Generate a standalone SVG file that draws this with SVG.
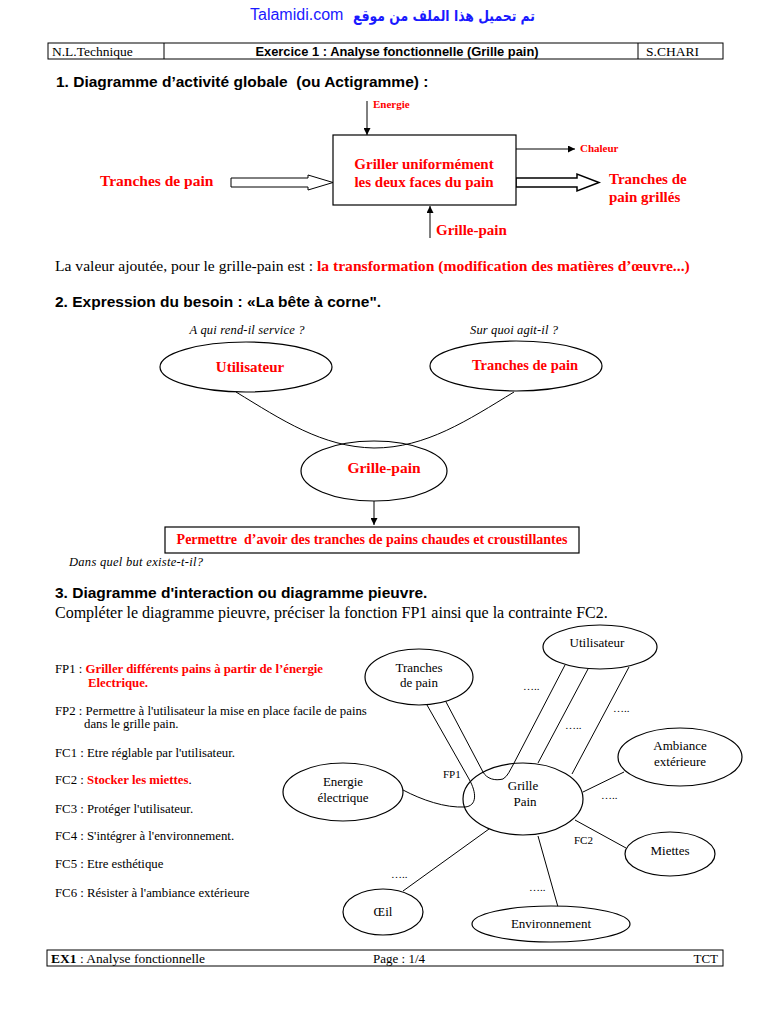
<svg xmlns="http://www.w3.org/2000/svg" width="768" height="1024" viewBox="0 0 768 1024">
<defs>
<marker id="ah" viewBox="0 0 10 10" refX="10" refY="5" markerWidth="7" markerHeight="7" orient="auto" markerUnits="userSpaceOnUse"><path d="M0,0 L10,5 L0,10 z" fill="#000"/></marker>
<style>
.s{font-family:"Liberation Serif","Times New Roman",serif;}
.a{font-family:"Liberation Sans",Arial,sans-serif;}
.b{font-weight:bold;}
.r{fill:#ff0000;}
.i{font-style:italic;}
.pre{white-space:pre;}
.ln{fill:none;stroke:#000;stroke-width:1;}
.p{font-size:13px;}
.t{font-size:12.8px;}
.h{font-size:15.5px;}
</style>
</defs>
<rect width="768" height="1024" fill="#fff"/>
<!-- header -->
<g id="header">
<text x="250" y="20" class="a" font-size="16" fill="#1a1aff">Talamidi.com</text>
<text x="535" y="21" font-family="'DejaVu Sans',sans-serif" font-weight="bold" font-size="15" fill="#1a1aff" text-anchor="end" textLength="182" lengthAdjust="spacingAndGlyphs">تم تحميل هذا الملف من موقع</text>
<rect x="48" y="43" width="675" height="16" fill="none" stroke="#000" stroke-width="1"/>
<line x1="164" y1="43" x2="164" y2="59" stroke="#000"/>
<line x1="638" y1="43" x2="638" y2="59" stroke="#000"/>
<text x="52" y="55.5" class="s" font-size="13.5">N.L.Technique</text>
<text x="397" y="55.5" class="a b" font-size="12.9" text-anchor="middle">Exercice 1 : Analyse fonctionnelle (Grille pain)</text>
<text x="646" y="55.5" class="s" font-size="13.5">S.CHARI</text>
</g>
<text x="56" y="87" class="a b h pre">1. Diagramme d’activité globale  (ou Actigramme) :</text>
<!-- actigramme -->
<g id="conn-acti">
<line x1="367" y1="101" x2="367" y2="135" class="ln" marker-end="url(#ah)"/>
<line x1="516" y1="149" x2="575" y2="149" class="ln" stroke="#555" marker-end="url(#ah)"/>
<line x1="430" y1="238" x2="430" y2="206" class="ln" stroke="#555" marker-end="url(#ah)"/>
<path d="M231,178 L308,178 L308,175 L333,182.5 L308,190 L308,187 L231,187 Z" fill="#fff" stroke="#000" stroke-width="1"/>
<path d="M516,178 L577,178 L577,174 L599,182.5 L577,191 L577,187 L516,187 Z" fill="#fff" stroke="#000" stroke-width="1.5"/>
</g>
<g id="box-acti">
<rect x="333" y="135" width="183" height="70" fill="#fff" stroke="#000" stroke-width="1.2"/>
<text x="424" y="169" class="s b r" font-size="15" text-anchor="middle">Griller uniformément</text>
<text x="424" y="187" class="s b r" font-size="15" text-anchor="middle">les deux faces du pain</text>
</g>
<text x="373" y="108" class="s b r" font-size="11">Energie</text>
<text x="580" y="152" class="s b r" font-size="11">Chaleur</text>
<text x="100" y="186" class="s b r" font-size="15.5">Tranches de pain</text>
<text x="609" y="184" class="s b r" font-size="15">Tranches de</text>
<text x="609" y="202" class="s b r" font-size="15">pain grillés</text>
<text x="436" y="235" class="s b r" font-size="15">Grille-pain</text>
<text x="55" y="271" class="s" font-size="15.6">La valeur ajoutée, pour le grille-pain est : <tspan class="b r">la transformation (modification des matières d’œuvre...)</tspan></text>
<text x="55" y="307" class="a b h">2. Expression du besoin : «La bête à corne".</text>
<!-- bete a corne -->
<text x="247" y="334" class="s i" font-size="12.5" text-anchor="middle" textLength="115">A qui rend-il service ?</text>
<text x="514" y="334" class="s i" font-size="12.5" text-anchor="middle" textLength="88">Sur quoi agit-il ?</text>
<g id="conn-bete">
<path d="M236,392 C282,420 322,447 374,448 C426,448 468,420 514,392" class="ln"/>
<line x1="374" y1="501" x2="374" y2="525" class="ln" marker-end="url(#ah)"/>
</g>
<g id="b-util"><ellipse cx="246" cy="367" rx="86" ry="25" fill="none" stroke="#000" stroke-width="1.2"/><text x="250" y="372" class="s b r" font-size="15" text-anchor="middle">Utilisateur</text></g>
<g id="b-tranches"><ellipse cx="516" cy="366" rx="86" ry="25" fill="none" stroke="#000" stroke-width="1.2"/><text x="525" y="370" class="s b r" font-size="14.5" text-anchor="middle">Tranches de pain</text></g>
<g id="b-grille"><ellipse cx="374" cy="471" rx="73" ry="30" fill="none" stroke="#000" stroke-width="1.2"/><text x="384" y="473" class="s b r" font-size="15.5" text-anchor="middle">Grille-pain</text></g>
<g id="b-but"><rect x="165" y="527" width="414" height="26" fill="#fff" stroke="#000" stroke-width="1.2"/><text x="372" y="544" class="s b r pre" font-size="14" text-anchor="middle">Permettre  d’avoir des tranches de pains chaudes et croustillantes</text></g>
<text x="69" y="566" class="s i" font-size="12.5" textLength="134">Dans quel but existe-t-il?</text>
<text x="55" y="598" class="a b h">3. Diagramme d'interaction ou diagramme pieuvre.</text>
<text x="55" y="618" class="s" font-size="16">Compléter le diagramme pieuvre, préciser la fonction FP1 ainsi que la contrainte FC2.</text>
<!-- list -->
<g id="liste" class="s t">
<text x="55" y="673">FP1 : <tspan class="b r">Griller différents pains à partir de l’énergie</tspan></text>
<text x="88" y="687" class="b r">Electrique.</text>
<text x="55" y="715">FP2 : Permettre à l'utilisateur la mise en place facile de pains</text>
<text x="84" y="728">dans le grille pain.</text>
<text x="55" y="757">FC1 : Etre réglable par l'utilisateur.</text>
<text x="55" y="784">FC2 : <tspan class="b r">Stocker les miettes</tspan>.</text>
<text x="55" y="813">FC3 : Protéger l'utilisateur.</text>
<text x="55" y="840">FC4 : S'intégrer à l'environnement.</text>
<text x="55" y="868">FC5 : Etre esthétique</text>
<text x="55" y="897">FC6 : Résister à l'ambiance extérieure</text>
</g>
<!-- pieuvre connectors -->
<g id="conn-pieuvre">
<path d="M427,705 L469,779 C477,793 477,806 465,807 C445,808 422,800 403,790" class="ln"/>
<path d="M445,700 L483,772 C487,779 495,781 503,779 C508,776 510,770 513,765 L565,665" class="ln"/>
<line x1="588" y1="669" x2="538" y2="763" class="ln"/>
<line x1="629" y1="667" x2="572" y2="774" class="ln"/>
<line x1="624" y1="772" x2="583" y2="792" class="ln"/>
<line x1="626" y1="848" x2="575" y2="820" class="ln"/>
<line x1="558" y1="907" x2="538" y2="836" class="ln"/>
<line x1="403" y1="891" x2="489" y2="829" class="ln"/>
</g>
<g id="p-grille"><ellipse cx="523" cy="799" rx="60" ry="36" fill="none" stroke="#000" stroke-width="1.2"/><text x="523" y="790" class="s p" text-anchor="middle">Grille</text><text x="525" y="806" class="s p" text-anchor="middle">Pain</text></g>
<g id="p-util"><ellipse cx="600" cy="647" rx="57" ry="22" fill="#fff" stroke="#000" stroke-width="1.2"/><text x="597" y="647" class="s p" text-anchor="middle">Utilisateur</text></g>
<g id="p-tranches"><ellipse cx="419" cy="677" rx="54" ry="28" fill="#fff" stroke="#000" stroke-width="1.2"/><text x="419" y="672" class="s p" text-anchor="middle">Tranches</text><text x="419" y="687" class="s p" text-anchor="middle">de pain</text></g>
<g id="p-energie"><ellipse cx="343" cy="792" rx="60" ry="29" fill="#fff" stroke="#000" stroke-width="1.2"/><text x="343" y="786" class="s p" text-anchor="middle">Energie</text><text x="343" y="802" class="s p" text-anchor="middle">électrique</text></g>
<g id="p-ambiance"><ellipse cx="680" cy="757" rx="62" ry="29" fill="#fff" stroke="#000" stroke-width="1.2"/><text x="680" y="750" class="s p" text-anchor="middle">Ambiance</text><text x="680" y="766" class="s p" text-anchor="middle">extérieure</text></g>
<g id="p-miettes"><ellipse cx="670" cy="854" rx="45" ry="22" fill="#fff" stroke="#000" stroke-width="1.2"/><text x="670" y="855" class="s p" text-anchor="middle">Miettes</text></g>
<g id="p-env"><ellipse cx="551" cy="924" rx="79" ry="18" fill="#fff" stroke="#000" stroke-width="1.2"/><text x="551" y="928" class="s p" text-anchor="middle">Environnement</text></g>
<g id="p-oeil"><ellipse cx="383" cy="912" rx="40" ry="23" fill="#fff" stroke="#000" stroke-width="1.2"/><text x="383" y="916" class="s p" text-anchor="middle">Œil</text></g>
<g class="s" font-size="11">
<text x="443" y="778">FP1</text>
<text x="574" y="844">FC2</text>
<text x="523" y="690">…..</text>
<text x="565" y="729">…..</text>
<text x="613" y="712">…..</text>
<text x="601" y="799">…..</text>
<text x="391" y="878">…..</text>
<text x="529" y="891">…..</text>
</g>
<!-- footer -->
<g id="footer">
<rect x="47" y="950" width="676" height="16" fill="none" stroke="#000" stroke-width="1"/>
<text x="51" y="962.5" class="s" font-size="13.5"><tspan class="b">EX1</tspan> : Analyse fonctionnelle</text>
<text x="399" y="962.5" class="s" font-size="13" text-anchor="middle">Page : 1/4</text>
<text x="718" y="962.5" class="s" font-size="13" text-anchor="end">TCT</text>
</g>
</svg>
